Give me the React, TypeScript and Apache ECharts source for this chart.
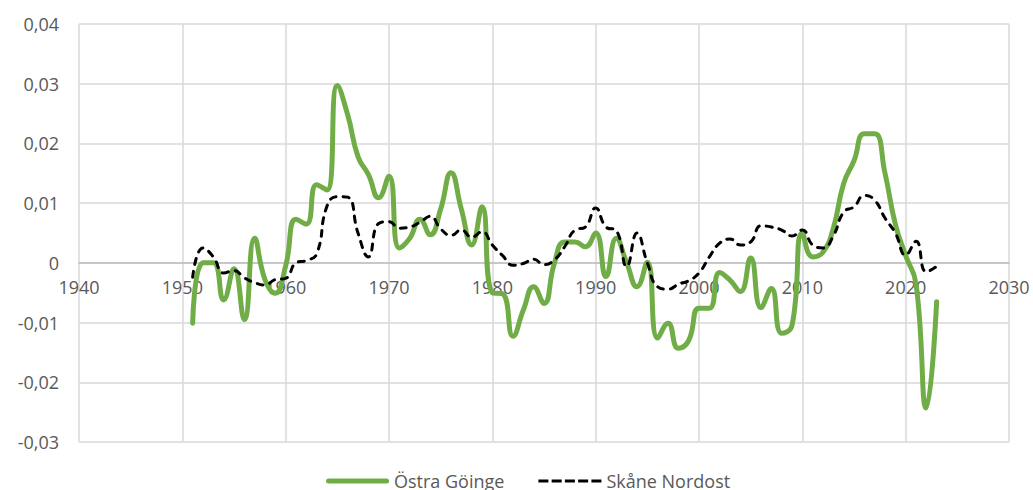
import React, { useEffect, useRef } from "react";
import * as echarts from "echarts";

const years: number[] = [];
for (let y = 1951; y <= 2023; y++) years.push(y);

const ostraGoinge: number[] = [
  // 1951-1960
  -0.0101, 0.0, 0.0, -0.0062, -0.001, -0.0095, 0.0041, -0.0028, -0.0051, -0.0005,
  // 1961-1970
  0.0073, 0.0065, 0.0131, 0.0122, 0.0297, 0.0248, 0.0178, 0.0148, 0.0109, 0.0145,
  // 1971-1980
  0.0025, 0.0041, 0.0073, 0.0047, 0.009, 0.0151, 0.009, 0.003, 0.0094, -0.005,
  // 1981-1990
  -0.0052, -0.0123, -0.0079, -0.004, -0.0068, -0.0001, 0.0035, 0.0035, 0.0027, 0.005,
  // 1991-2000
  -0.0023, 0.0041, 0.0, -0.004, 0.0001, -0.0126, -0.0101, -0.0143, -0.013, -0.0076,
  // 2001-2010
  -0.0076, -0.0016, -0.0029, -0.0048, 0.0008, -0.0075, -0.0043, -0.0118, -0.0105, 0.005,
  // 2011-2020
  0.001, 0.0018, 0.0058, 0.0133, 0.0171, 0.0216, 0.0216, 0.015, 0.0065, 0.0012,
  // 2021-2023
  -0.0035, -0.0243, -0.0065,
];

const skaneNordost: number[] = [
  // 1951-1960
  -0.0024, 0.0025, 0.001, -0.0017, -0.0013, -0.0025, -0.0033, -0.0037, -0.0028, -0.0026,
  // 1961-1970
  0.0, 0.0004, 0.0015, 0.0095, 0.0111, 0.011, 0.005, 0.001, 0.0066, 0.0069,
  // 1971-1980
  0.0058, 0.006, 0.0068, 0.0078, 0.0057, 0.0046, 0.0055, 0.0043, 0.0052, 0.003,
  // 1981-1990
  0.0012, -0.0004, -0.0001, 0.0006, -0.0003, 0.0005, 0.0027, 0.0055, 0.006, 0.0092,
  // 1991-2000
  0.006, 0.0054, -0.0006, 0.005, 0.0, -0.004, -0.0044, -0.0036, -0.003, -0.0017,
  // 2001-2010
  0.001, 0.0033, 0.004, 0.003, 0.0035, 0.0062, 0.006, 0.0055, 0.0045, 0.0055,
  // 2011-2020
  0.003, 0.0025, 0.0045, 0.0085, 0.0094, 0.0113, 0.0105, 0.0075, 0.005, 0.0013,
  // 2021-2023
  0.0036, -0.0015, -0.0006,
];

const seriesNames = ["Östra Göinge", "Skåne Nordost"];

const FONT = "'Open Sans', 'Liberation Sans', sans-serif";
const LABEL_COLOR = "#595959";
const GRID_COLOR = "#d9d9d9";

// legend icons (63 x 5 solid, 63 x 3 dashed)
const SOLID_ICON = "path://M2.5,0H60.5A2.5,2.5,0,0,1,60.5,5H2.5A2.5,2.5,0,0,1,2.5,0Z";
const DASH_ICON =
  "path://M0,0h10v3h-10zM13.25,0h10v3h-10zM26.5,0h10v3h-10zM39.75,0h10v3h-10zM53,0h10v3h-10z";

export default function App() {
  const ref = useRef<HTMLDivElement>(null);

  useEffect(() => {
    if (!ref.current) return;
    const chart = echarts.init(ref.current, undefined, { renderer: "svg" });
    const pair = (vals: number[]) => years.map((y, i) => [y, vals[i]]);
    const gridTop = 24;
    const gridBottom = 48;
    const plotH = 490 - gridTop - gridBottom;
    const yMin = -0.03;
    const yMax = 0.04;
    const zeroOffset = (plotH * (0 - yMin)) / (yMax - yMin);
    chart.setOption({
      animation: false,
      backgroundColor: "#ffffff",
      textStyle: { fontFamily: FONT },
      grid: { left: 79, right: 24, top: gridTop, bottom: gridBottom, containLabel: false },
      legend: {
        data: [
          { name: seriesNames[0], icon: SOLID_ICON, itemStyle: { color: "#70ad47" } },
          { name: seriesNames[1], icon: DASH_ICON, itemStyle: { color: "#000000" } },
        ],
        top: 472,
        left: 326,
        padding: 0,
        itemWidth: 63,
        itemHeight: 5,
        itemGap: 34,
        symbolKeepAspect: true,
        textStyle: { fontFamily: FONT, fontSize: 18, lineHeight: 18, color: LABEL_COLOR },
      },
      xAxis: {
        type: "value",
        min: 1940,
        max: 2030,
        interval: 10,
        position: "bottom",
        offset: -zeroOffset,
        axisLine: { show: true, onZero: false, lineStyle: { color: "#bfbfbf", width: 1.5 } },
        axisTick: { show: false },
        axisLabel: {
          fontFamily: FONT,
          fontSize: 18,
          color: LABEL_COLOR,
          margin: 15,
          formatter: (v: number) => String(v),
        },
        splitLine: { show: true, lineStyle: { color: GRID_COLOR, width: 1.5 } },
      },
      yAxis: {
        type: "value",
        min: yMin,
        max: yMax,
        interval: 0.01,
        axisLine: { show: false },
        axisTick: { show: false },
        axisLabel: {
          fontFamily: FONT,
          fontSize: 18,
          color: LABEL_COLOR,
          margin: 20,
          formatter: (v: number) => {
            const r = Math.round(v * 100) / 100;
            if (r === 0) return "0";
            return r.toFixed(2).replace(".", ",");
          },
        },
        splitLine: { show: true, lineStyle: { color: GRID_COLOR, width: 1.5 } },
      },
      series: [
        {
          name: seriesNames[0],
          type: "line",
          data: pair(ostraGoinge),
          smooth: 0.5,
          symbol: "none",
          showSymbol: false,
          lineStyle: { color: "#70ad47", width: 5, cap: "round", join: "round" },
          itemStyle: { color: "#70ad47" },
          z: 2,
        },
        {
          name: seriesNames[1],
          type: "line",
          data: pair(skaneNordost),
          smooth: 0.5,
          symbol: "none",
          showSymbol: false,
          lineStyle: { color: "#000000", width: 3, type: [6, 7], cap: "round", join: "round" },
          itemStyle: { color: "#000000" },
          z: 3,
        },
      ],
    });
    return () => chart.dispose();
  }, []);

  return (
    <div
      ref={ref}
      style={{ position: "fixed", left: 0, top: 0, width: 1033, height: 490, background: "#fff" }}
    />
  );
}
